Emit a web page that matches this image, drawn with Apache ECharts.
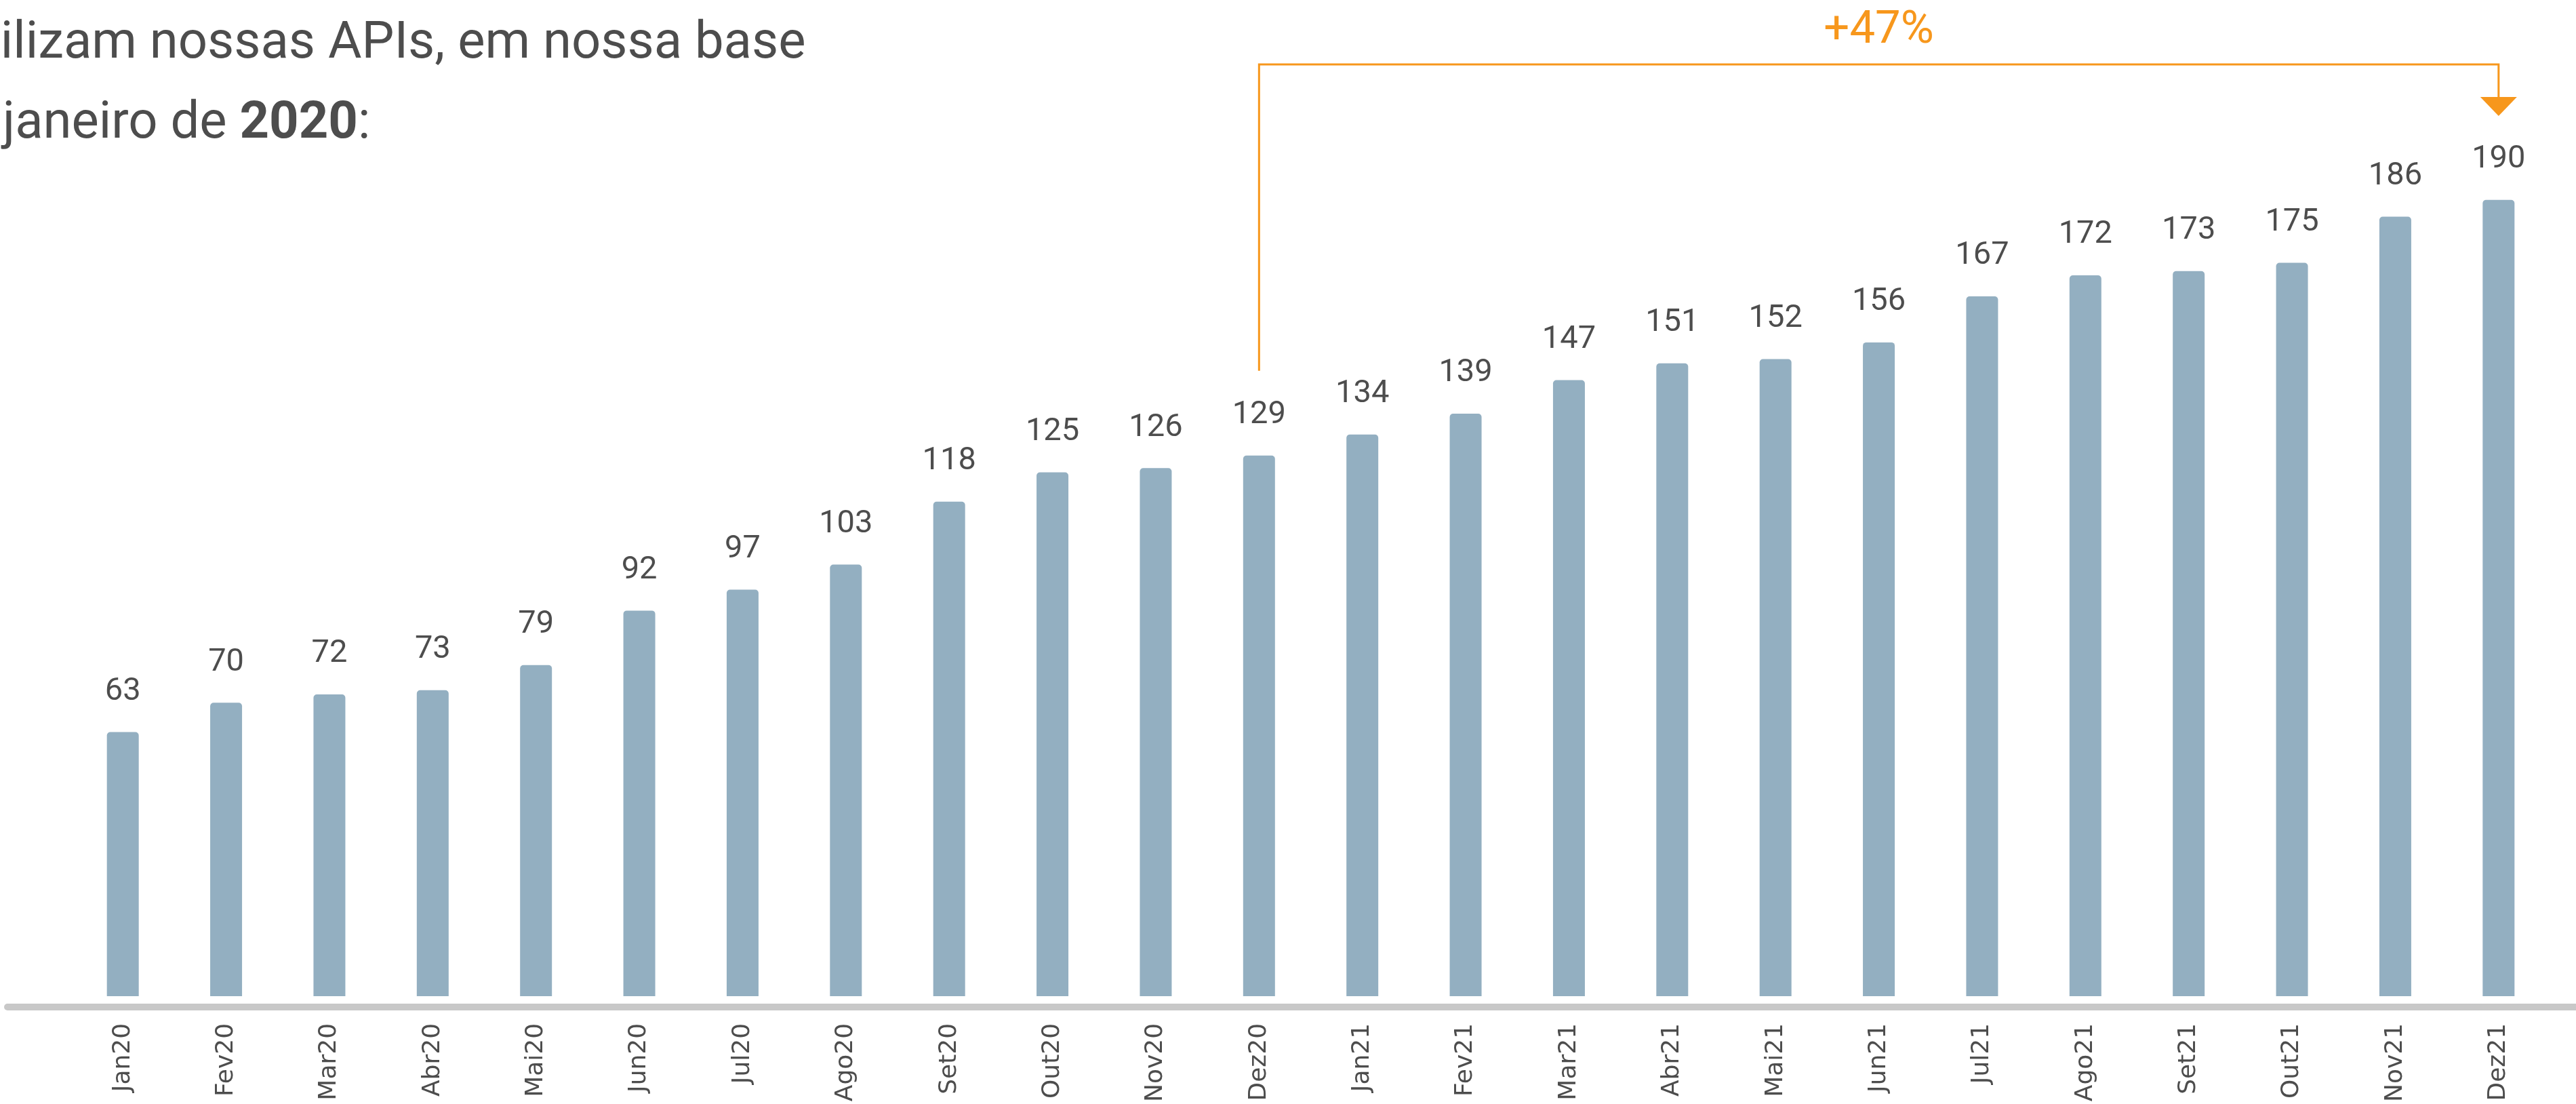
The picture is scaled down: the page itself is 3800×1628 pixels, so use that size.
<!DOCTYPE html>
<html>
<head>
<meta charset="utf-8">
<title>APIs</title>
<script src="https://cdn.jsdelivr.net/npm/echarts@6/dist/echarts.min.js"></script>
<style>
    html, body { margin: 0; padding: 0; background: #fff; }
    #grafico { width: 3800px; height: 1628px; }
</style>
</head>
<body>
<div id="grafico"></div>
<script>
// dados
var meses = ['Jan20', 'Fev20', 'Mar20', 'Abr20', 'Mai20', 'Jun20', 'Jul20', 'Ago20', 'Set20', 'Out20', 'Nov20', 'Dez20',
    'Jan21', 'Fev21', 'Mar21', 'Abr21', 'Mai21', 'Jun21', 'Jul21', 'Ago21', 'Set21', 'Out21', 'Nov21', 'Dez21'];
var valores = [63, 70, 72, 73, 79, 92, 97, 103, 118, 125, 126, 129,
    134, 139, 147, 151, 152, 156, 167, 172, 173, 175, 186, 190];
// comparação da anotação (Dez20 -> Dez21)
var idxInicio = 11;
var idxFim = 23;

var corBarra = '#93afc1';
var corTexto = '#4d4d4d';
var corLaranja = '#f7971c';

var chart = echarts.init(document.getElementById('grafico'));

var option = {
    animation: false,
    grid: [
        // grid das barras
        {left: 105, right: 38, top: 233, bottom: 150},
        // só para a linha cinza do eixo, que vai de ponta a ponta
        {left: 11, right: 0, top: 233, bottom: 143}
    ],
    xAxis: [
        {
            type: 'category',
            gridIndex: 0,
            data: meses,
            axisLine: {show: false},
            axisTick: {show: false},
            axisLabel: {
                rotate: 90,
                margin: 40,
                fontSize: 36,
                fontFamily: 'DejaVu Sans',
                color: corTexto
            }
        },
        {
            type: 'value',
            gridIndex: 1,
            z: 5,
            axisLine: {show: true, lineStyle: {color: '#c8c8c8', width: 10}},
            axisTick: {show: false},
            axisLabel: {show: false},
            splitLine: {show: false}
        }
    ],
    yAxis: [
        {type: 'value', gridIndex: 0, min: 0, max: 200, show: false},
        {type: 'value', gridIndex: 1, show: false}
    ],
    series: [{
        name: 'APIs',
        type: 'bar',
        xAxisIndex: 0,
        yAxisIndex: 0,
        data: valores,
        barWidth: 47,
        itemStyle: {color: corBarra, borderRadius: [5, 5, 0, 0]},
        label: {
            show: true,
            position: 'top',
            distance: 36,
            fontSize: 47,
            fontFamily: 'Roboto',
            color: corTexto
        }
    }]
};

chart.setOption(option);

// anotação +47% com colchete laranja
var pIni = chart.convertToPixel({seriesIndex: 0}, [idxInicio, valores[idxInicio]]);
var pFim = chart.convertToPixel({seriesIndex: 0}, [idxFim, valores[idxFim]]);
var pct = Math.round((valores[idxFim] / valores[idxInicio] - 1) * 100);
var yColchete = 95;
var ySeta = 143;

chart.setOption({
    graphic: [
        {
            type: 'text',
            x: -66, y: 66,
            style: {
                text: 'utilizam nossas APIs, em nossa base',
                fontSize: 76,
                fontFamily: 'Roboto',
                fill: corTexto,
                verticalAlign: 'middle'
            }
        },
        {
            type: 'text',
            x: 4, y: 184,
            style: {
                text: 'janeiro de {b|2020}:',
                fontSize: 76,
                fontFamily: 'Roboto',
                fill: corTexto,
                verticalAlign: 'middle',
                rich: {
                    b: {fontSize: 76, fontFamily: 'Roboto', fontWeight: 'bold', fill: corTexto}
                }
            }
        },
        {
            type: 'polyline',
            shape: {
                points: [
                    [pIni[0], pIni[1] - 125],
                    [pIni[0], yColchete],
                    [pFim[0], yColchete],
                    [pFim[0], ySeta]
                ]
            },
            style: {stroke: corLaranja, lineWidth: 3, fill: null}
        },
        {
            type: 'polygon',
            shape: {
                points: [
                    [pFim[0] - 27, ySeta],
                    [pFim[0] + 27, ySeta],
                    [pFim[0], ySeta + 28]
                ]
            },
            style: {fill: corLaranja}
        },
        {
            type: 'text',
            x: (pIni[0] + pFim[0]) / 2, y: 46,
            style: {
                text: '+' + pct + '%',
                fontSize: 67,
                fontFamily: 'Roboto',
                fill: corLaranja,
                align: 'center',
                verticalAlign: 'middle'
            }
        }
    ]
});
</script>
</body>
</html>
